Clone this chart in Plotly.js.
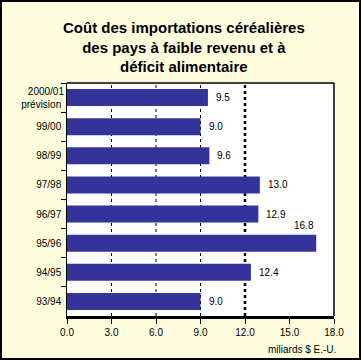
<!DOCTYPE html>
<html>
<head>
<meta charset="utf-8">
<script src="https://cdn.plot.ly/plotly-3.0.1.min.js"></script>
<style>
html,body{margin:0;padding:0;background:#fff;}
#wrap{position:relative;width:361px;height:360px;}
#chart{width:361px;height:360px;}
#frame{position:absolute;left:0;top:0;width:361px;height:360px;box-sizing:border-box;border:2px solid #000;pointer-events:none;}
</style>
</head>
<body>
<div id="wrap"><div id="chart"></div><div id="frame"></div></div>
<script>
// Data (top to bottom)
const categories = ['2000/01<br>prévision', '99/00', '98/99', '97/98', '96/97', '95/96', '94/95', '93/94'];
const values = [9.5, 9.0, 9.6, 13.0, 12.9, 16.8, 12.4, 9.0];
const xTicks = [0, 3, 6, 9, 12, 15, 18];
const xTickLabels = ['0.0', '3.0', '6.0', '9.0', '12.0', '15.0', '18.0'];
const gridValues = [3, 6, 9];
const refLine = 12;
const xTitle = 'miliards $ E.-U.';
const chartTitle = 'Coût des importations céréalières<br>des pays à faible revenu et à<br>déficit alimentaire';

const font = {family: 'Arial, Liberation Sans, sans-serif', size: 10, color: '#000'};

const trace = {
  type: 'bar',
  orientation: 'h',
  y: categories,
  x: values,
  marker: {color: '#333399', line: {width: 0}},
  hoverinfo: 'none'
};

const annotations = values.map((v, i) => {
  const big = v > 15;
  return {
    x: v, y: categories[i], xref: 'x', yref: 'y',
    text: v.toFixed(1), showarrow: false,
    xanchor: big ? 'right' : 'left',
    xshift: big ? 0 : 6,
    yshift: big ? 18 : 0,
    font: font
  };
});
annotations.push({
  x: 1, y: 0, xref: 'paper', yref: 'paper', yshift: -26, xshift: 4,
  xanchor: 'right', yanchor: 'top', showarrow: false,
  text: xTitle, font: font
});
annotations.push({
  x: 0.5, xref: 'paper', y: 1, yref: 'paper', yshift: 66, xshift: -17,
  yanchor: 'top', xanchor: 'center', showarrow: false, align: 'center',
  text: '<b>' + chartTitle + '</b>',
  font: {family: 'Arial, Liberation Sans, sans-serif', size: 15, color: '#000'}
});

const shapes = gridValues.map(g => ({
  type: 'line', xref: 'x', yref: 'paper', x0: g, x1: g, y0: 0, y1: 1,
  line: {color: '#000', width: 1, dash: 'dot'}, layer: 'below'
}));
shapes.push({
  type: 'line', xref: 'x', yref: 'paper', x0: refLine, x1: refLine, y0: 0, y1: 1,
  line: {color: '#000', width: 2.5, dash: 'dot'}, layer: 'below'
});
// plot border (top & right)
shapes.push({type: 'line', xref: 'paper', yref: 'paper', x0: 0, x1: 1, y0: 1, y1: 1, line: {color: '#000', width: 1.5}});
shapes.push({type: 'line', xref: 'paper', yref: 'paper', x0: 1, x1: 1, y0: 0, y1: 1, line: {color: '#000', width: 1.5}});

const layout = {
  width: 361, height: 360,
  margin: {l: 67, r: 27, t: 83, b: 44, pad: 0},
  paper_bgcolor: '#fdfdde',
  plot_bgcolor: '#ffffff',
  showlegend: false,
  bargap: 0.42,
  font: font,
  xaxis: {
    range: [0, 18], tickvals: xTicks, ticktext: xTickLabels,
    showgrid: false, zeroline: false,
    showline: true, linecolor: '#000', linewidth: 3,
    ticks: 'outside', ticklen: 5, tickcolor: '#000', tickwidth: 1,
    tickfont: font, fixedrange: true
  },
  yaxis: {
    type: 'category', categoryorder: 'array', categoryarray: categories,
    autorange: 'reversed',
    showgrid: false, zeroline: false,
    showline: true, linecolor: '#000', linewidth: 1,
    ticks: 'outside', ticklen: 5, tickcolor: '#000', tickson: 'boundaries',
    tickfont: font, ticksuffix: ' ', fixedrange: true
  },
  annotations: annotations,
  shapes: shapes
};

Plotly.newPlot('chart', [trace], layout, {displayModeBar: false, staticPlot: true});
</script>
</body>
</html>
